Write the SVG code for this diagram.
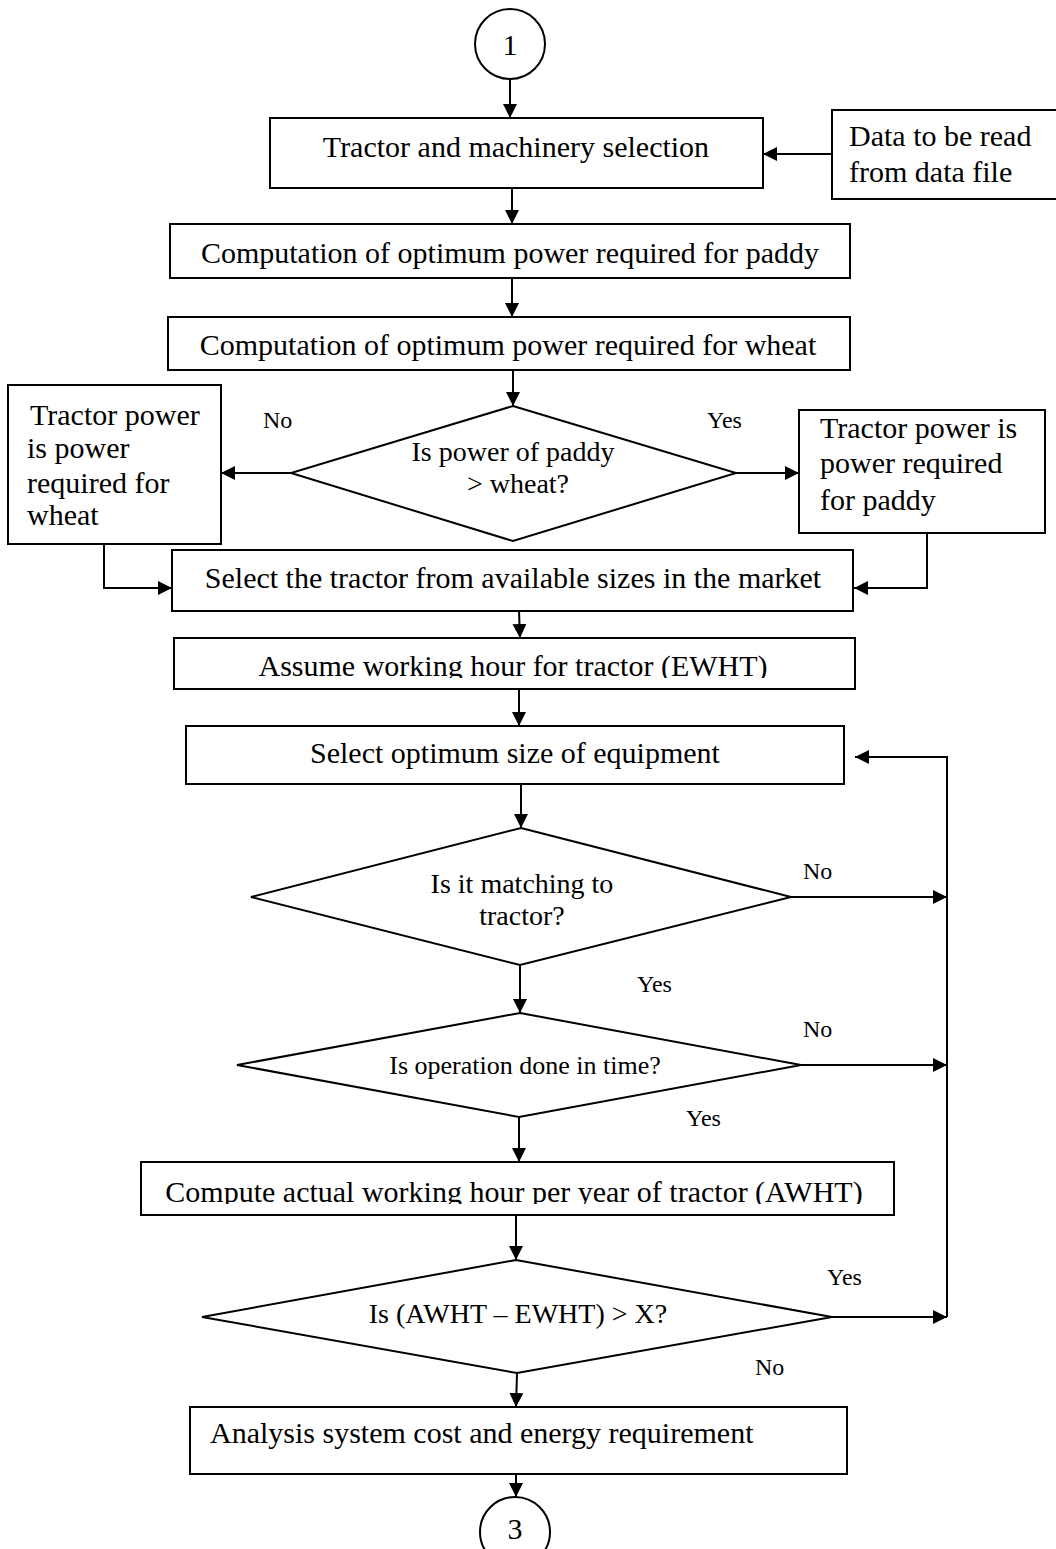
<svg xmlns="http://www.w3.org/2000/svg" width="1056" height="1549" viewBox="0 0 1056 1549">
<style>
.n{fill:#fff;stroke:#000;stroke-width:2}
.t{font-family:"Liberation Serif","Times New Roman",serif;font-size:30px;fill:#000}
.d{font-family:"Liberation Serif","Times New Roman",serif;font-size:28px;fill:#000}
.s{font-family:"Liberation Serif","Times New Roman",serif;font-size:26px;fill:#000}
.l{font-family:"Liberation Serif","Times New Roman",serif;font-size:24px;fill:#000}
.m{text-anchor:middle}
.c{fill:none;stroke:#000;stroke-width:2;marker-end:url(#ah)}
</style>
<defs>
<marker id="ah" viewBox="0 0 14 14" refX="14" refY="7" markerWidth="14" markerHeight="14" markerUnits="userSpaceOnUse" orient="auto">
<path d="M0,0 L14,7 L0,14 z" fill="#000"/>
</marker>
<clipPath id="clip5"><rect x="170" y="630" width="700" height="48"/></clipPath>
<clipPath id="clip7"><rect x="130" y="1155" width="780" height="49"/></clipPath>
</defs>
<rect width="1056" height="1549" fill="#fff"/>

<g id="connectors">
<line class="c" x1="510" y1="79" x2="510" y2="118"/>
<line class="c" x1="832" y1="154" x2="763" y2="154"/>
<line class="c" x1="512" y1="188" x2="512" y2="224"/>
<line class="c" x1="512" y1="278" x2="512" y2="317"/>
<line class="c" x1="513" y1="370" x2="513" y2="406"/>
<line class="c" x1="291" y1="473" x2="221" y2="473"/>
<line class="c" x1="736" y1="473" x2="799" y2="473"/>
<polyline class="c" points="104,544 104,588 172,588"/>
<polyline class="c" points="927,533 927,588 854,588"/>
<line class="c" x1="519" y1="611" x2="520" y2="638"/>
<line class="c" x1="519" y1="689" x2="519" y2="726"/>
<line class="c" x1="521" y1="784" x2="521" y2="828"/>
<line class="c" x1="791" y1="897" x2="947" y2="897"/>
<line class="c" x1="520" y1="965" x2="520" y2="1013"/>
<line class="c" x1="801" y1="1065" x2="947" y2="1065"/>
<line class="c" x1="519" y1="1117" x2="519" y2="1162"/>
<line class="c" x1="516" y1="1215" x2="516" y2="1260"/>
<line class="c" x1="832" y1="1317" x2="947" y2="1317"/>
<polyline class="c" points="947,1317 947,757 855,757"/>
<line class="c" x1="517" y1="1373" x2="516" y2="1407"/>
<line class="c" x1="516" y1="1474" x2="516" y2="1497"/>
</g>

<g id="start">
<circle class="n" cx="510" cy="44" r="35"/>
<text class="t m" x="510" y="55">1</text>
</g>

<g id="box1">
<rect class="n" x="270" y="118" width="493" height="70"/>
<text class="t m" x="516" y="157">Tractor and machinery selection</text>
</g>

<g id="data">
<rect class="n" x="832" y="110" width="230" height="89"/>
<text class="t" x="849" y="146">Data to be read</text>
<text class="t" x="849" y="182">from data file</text>
</g>

<g id="box2">
<rect class="n" x="170" y="224" width="680" height="54"/>
<text class="t m" x="510" y="263">Computation of optimum power required for paddy</text>
</g>

<g id="box3">
<rect class="n" x="168" y="317" width="682" height="53"/>
<text class="t m" x="508" y="355">Computation of optimum power required for wheat</text>
</g>

<g id="dec1">
<polygon class="n" points="513,406 736,473 513,541 291,473"/>
<text class="d m" x="513" y="461">Is power of paddy</text>
<text class="d m" x="518" y="493">&gt; wheat?</text>
</g>
<text class="l" x="263" y="428">No</text>
<text class="l" x="707" y="428">Yes</text>

<g id="wheatbox">
<rect class="n" x="8" y="385" width="213" height="159"/>
<text class="t" x="30" y="425">Tractor power</text>
<text class="t" x="27" y="458">is power</text>
<text class="t" x="27" y="493">required for</text>
<text class="t" x="27" y="525">wheat</text>
</g>

<g id="paddybox">
<rect class="n" x="799" y="410" width="246" height="123"/>
<text class="t" x="820" y="438">Tractor power is</text>
<text class="t" x="820" y="473">power required</text>
<text class="t" x="820" y="510">for paddy</text>
</g>

<g id="box4">
<rect class="n" x="172" y="550" width="681" height="61"/>
<text class="t m" x="513" y="588">Select the tractor from available sizes in the market</text>
</g>

<g id="box5">
<rect class="n" x="174" y="638" width="681" height="51"/>
<text class="t m" x="513" y="676" clip-path="url(#clip5)">Assume working hour for tractor (EWHT)</text>
</g>

<g id="box6">
<rect class="n" x="186" y="726" width="658" height="58"/>
<text class="t m" x="515" y="763">Select optimum size of equipment</text>
</g>

<g id="dec2">
<polygon class="n" points="521,828 791,897 520,965 251,897"/>
<text class="d m" x="522" y="893">Is it matching to</text>
<text class="d m" x="522" y="925">tractor?</text>
</g>
<text class="l" x="803" y="879">No</text>
<text class="l" x="637" y="992">Yes</text>

<g id="dec3">
<polygon class="n" points="520,1013 801,1065 519,1117 237,1065"/>
<text class="s m" x="525" y="1074">Is operation done in time?</text>
</g>
<text class="l" x="803" y="1037">No</text>
<text class="l" x="686" y="1126">Yes</text>

<g id="box7">
<rect class="n" x="141" y="1162" width="753" height="53"/>
<text class="t m" x="514" y="1202" clip-path="url(#clip7)">Compute actual working hour per year of tractor (AWHT)</text>
</g>

<g id="dec4">
<polygon class="n" points="516,1260 832,1317 517,1373 202,1317"/>
<text class="d m" x="518" y="1323">Is (AWHT – EWHT) &gt; X?</text>
</g>
<text class="l" x="827" y="1285">Yes</text>
<text class="l" x="755" y="1375">No</text>

<g id="box8">
<rect class="n" x="190" y="1407" width="657" height="67"/>
<text class="t" x="210" y="1443">Analysis system cost and energy requirement</text>
</g>

<g id="end">
<circle class="n" cx="515" cy="1532" r="35"/>
<text class="t m" x="515" y="1539">3</text>
</g>
</svg>
